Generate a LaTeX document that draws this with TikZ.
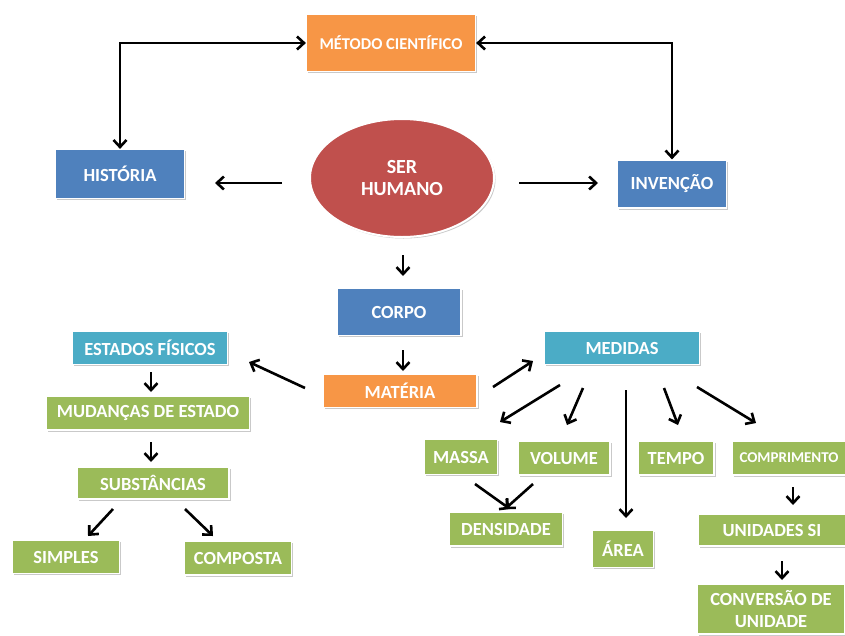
\documentclass[tikz,border=0pt]{standalone}
\usepackage{fontspec}
\setmainfont{Carlito}
\usetikzlibrary{arrows.meta,shadows,shapes.geometric}
\definecolor{cblue}{HTML}{4F81BD}
\definecolor{corange}{HTML}{F79646}
\definecolor{cred}{HTML}{C0504D}
\definecolor{cteal}{HTML}{4BACC6}
\definecolor{cgreen}{HTML}{9BBB59}
\tikzset{
  box/.style={rectangle, draw=white, line width=1.2pt, text=white, font=\bfseries\fontsize{18.5}{22}\selectfont,
    inner sep=0pt, align=center, drop shadow={shadow xshift=1.5pt, shadow yshift=-1.5pt, opacity=0.35, fill=black!60}},
  bluebox/.style={box, fill=cblue},
  orangebox/.style={box, fill=corange},
  tealbox/.style={box, fill=cteal},
  greenbox/.style={box, fill=cgreen},
  tipx/.tip={Straight Barb[length=7pt,width=13pt,line width=2.6pt]},
  arr/.style={-tipx, line width=2.6pt, black},
  darr/.style={tipx-tipx, line width=2.6pt, black},
}
\begin{document}
\begin{tikzpicture}[x=1pt,y=-1pt]
\useasboundingbox[fill=white] (0,0) rectangle (845,635);
% nodes
\node[orangebox, minimum width=169pt, minimum height=57pt, font=\bfseries\fontsize{16.5}{19}\selectfont] (met) at (391,43) {MÉTODO CIENTÍFICO};
\node[bluebox, minimum width=129pt, minimum height=49pt] (his) at (120,174) {HISTÓRIA};
\node[ellipse, draw=white, line width=2pt, fill=cred, minimum width=184pt, minimum height=118pt, text=white,
  font=\bfseries\fontsize{20}{22}\selectfont, align=center, inner sep=0pt,
  drop shadow={shadow xshift=1.5pt, shadow yshift=-1.5pt, opacity=0.35, fill=black!60}] (ser) at (402,178) {SER\\HUMANO};
\node[bluebox, minimum width=109pt, minimum height=48pt] (inv) at (672,184) {INVENÇÃO};
\node[bluebox, minimum width=124pt, minimum height=47pt] (cor) at (399,312) {CORPO};
\node[orangebox, minimum width=154pt, minimum height=33pt] (mat) at (400,391) {MATÉRIA};
\node[tealbox, minimum width=155pt, minimum height=33pt] (est) at (150,348) {ESTADOS FÍSICOS};
\node[greenbox, minimum width=203pt, minimum height=34pt] (mud) at (148,413) {MUDANÇAS DE ESTADO};
\node[greenbox, minimum width=152pt, minimum height=32pt] (sub) at (153,483) {SUBSTÂNCIAS};
\node[greenbox, minimum width=107pt, minimum height=33pt] (sim) at (66,557) {SIMPLES};
\node[greenbox, minimum width=107pt, minimum height=34pt] (com) at (238,558) {COMPOSTA};
\node[tealbox, minimum width=155pt, minimum height=33pt] (med) at (622,348) {MEDIDAS};
\node[greenbox, minimum width=73pt, minimum height=35pt] (mas) at (461,457) {MASSA};
\node[greenbox, minimum width=92pt, minimum height=34pt] (vol) at (564,458) {VOLUME};
\node[greenbox, minimum width=76pt, minimum height=34pt] (tem) at (676,458) {TEMPO};
\node[greenbox, minimum width=114pt, minimum height=34pt, font=\bfseries\fontsize{15}{18}\selectfont] (cmp) at (789,458) {COMPRIMENTO};
\node[greenbox, minimum width=113pt, minimum height=34pt] (den) at (506,529) {DENSIDADE};
\node[greenbox, minimum width=61pt, minimum height=37pt] (are) at (623,549) {ÁREA};
\node[greenbox, minimum width=147pt, minimum height=32pt] (uni) at (772,530) {UNIDADES SI};
\node[greenbox, minimum width=148pt, minimum height=50pt, font=\bfseries\fontsize{18.5}{22}\selectfont] (cnv) at (771,609) {CONVERSÃO DE\\UNIDADE};
% helper coordinates
\coordinate (c1) at (120,43);
\coordinate (c2) at (672,43);
\coordinate (sl1) at (282,183); \coordinate (sl2) at (215,183);
\coordinate (sr1) at (519,183); \coordinate (sr2) at (598,183);
\coordinate (sd1) at (403,255); \coordinate (sd2) at (403,276);
\coordinate (cd1) at (403,350); \coordinate (cd2) at (403,371);
\coordinate (ml1) at (305,388); \coordinate (ml2) at (249,362);
\coordinate (mr1) at (493,387); \coordinate (mr2) at (533,361);
\coordinate (e1) at (151,372); \coordinate (e2) at (151,392);
\coordinate (m1) at (151,442); \coordinate (m2) at (151,462);
\coordinate (s1) at (113,509); \coordinate (s2) at (88,536);
\coordinate (s3) at (185,509); \coordinate (s4) at (213,536);
\coordinate (d1) at (560,385); \coordinate (d2) at (500,422);
\coordinate (d3) at (583,388); \coordinate (d4) at (567,425);
\coordinate (d5) at (626,390); \coordinate (d6) at (626,518);
\coordinate (d7) at (664,388); \coordinate (d8) at (678,425);
\coordinate (d9) at (697,387); \coordinate (d10) at (756,423);
\coordinate (v1) at (475,484); \coordinate (v2) at (510,509);
\coordinate (v3) at (533,484); \coordinate (v4) at (505,509);
\coordinate (u1) at (793,487); \coordinate (u2) at (793,505);
\coordinate (u3) at (782,561); \coordinate (u4) at (782,580);
% connectors
\draw[darr] (met.west) -- (c1) -- (his.north);
\draw[darr] (met.east) -- (c2) -- (inv.north);
\draw[arr] (sl1) -- (sl2);
\draw[arr] (sr1) -- (sr2);
\draw[arr] (sd1) -- (sd2);
\draw[arr] (cd1) -- (cd2);
\draw[arr] (ml1) -- (ml2);
\draw[arr] (mr1) -- (mr2);
\draw[arr] (e1) -- (e2);
\draw[arr] (m1) -- (m2);
\draw[arr] (s1) -- (s2);
\draw[arr] (s3) -- (s4);
\draw[arr] (d1) -- (d2);
\draw[arr] (d3) -- (d4);
\draw[arr] (d5) -- (d6);
\draw[arr] (d7) -- (d8);
\draw[arr] (d9) -- (d10);
\draw[arr] (v1) -- (v2);
\draw[arr] (v3) -- (v4);
\draw[arr] (u1) -- (u2);
\draw[arr] (u3) -- (u4);
\end{tikzpicture}
\end{document}
